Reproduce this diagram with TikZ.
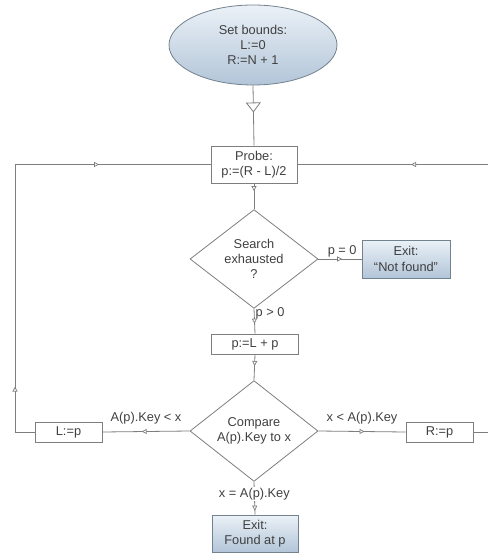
\documentclass[tikz,border=0pt]{standalone}
\usepackage{fontspec}
\setmainfont{Liberation Sans}
\usetikzlibrary{shapes.geometric,arrows.meta,decorations.markings}
\definecolor{lncol}{HTML}{7E7E7E}
\definecolor{txcol}{HTML}{404040}
\definecolor{fillA}{HTML}{EBF1F7}
\definecolor{fillB}{HTML}{B2C5D8}
\definecolor{edgeB}{HTML}{73828F}
\begin{document}
\begin{tikzpicture}[x=1pt,y=-1pt,
  every node/.style={text=txcol,font=\fontsize{12.8}{15.2}\selectfont},
  lnstyle/.style={draw=lncol,line width=0.8pt},
  box/.style={lnstyle,rectangle,fill=white,inner sep=1pt,align=center},
  exitbox/.style={box,draw=edgeB,top color=fillA,bottom color=fillB},
  dia/.style={lnstyle,diamond,minimum width=128pt,minimum height=75pt,inner sep=0pt,align=center,fill=white},
  lbl/.style={inner sep=1pt},
  midarr/.style={lnstyle,postaction={decorate,decoration={markings,mark=at position #1 with {\arrow[lncol,line width=0.7pt]{Triangle[fill=white,length=5pt,width=5pt]}}}}},
  bigarr/.style={lnstyle,postaction={decorate,decoration={markings,mark=at position #1 with {\arrow[lncol,line width=0.8pt]{Triangle[fill=white,length=10pt,width=15pt]}}}}}
]
\useasboundingbox (0,0) rectangle (487,553);

\node[ellipse,lnstyle,draw=edgeB,top color=fillA,bottom color=fillB,minimum width=168pt,minimum height=80pt,inner sep=0pt,align=center] (start) at (253,45) {Set bounds:\\L:=0\\R:=N + 1};
\node[box,minimum width=86pt,minimum height=37pt] (probe) at (254,164.5) {Probe:\\p:=(R - L)/2};
\node[dia] (search) at (254,259) {Search\\exhausted\\?};
\node[exitbox,minimum width=88pt,minimum height=38pt] (notfound) at (406,259) {Exit:\\``Not found''};
\node[box,minimum width=87pt,minimum height=20pt] (setL) at (255,344) {p:=L + p};
\node[dia] (compare) at (254,431) {Compare\\A(p).Key to x};
\node[box,minimum width=67pt,minimum height=20pt] (lp) at (68.5,432) {L:=p};
\node[box,minimum width=67pt,minimum height=20pt] (rp) at (439.5,432) {R:=p};
\node[exitbox,minimum width=86pt,minimum height=37pt] (found) at (255,533.5) {Exit:\\Found at p};

\coordinate (cl1) at (15,432);
\coordinate (cl2) at (15,164.5);
\coordinate (cr1) at (490,432);
\coordinate (cr2) at (490,164.5);

\draw[bigarr=0.45] (start.south) -- (probe.north);
\draw[midarr=0.3] (probe.south) -- (search.north);
\draw[midarr=0.55] (search.east) -- node[lbl,above,pos=0.55] {p = 0} (notfound.west);
\draw[midarr=0.6] (search.south) -- node[lbl,right,pos=0.2] {p > 0} (setL.north);
\draw[midarr=0.45] (setL.south) -- (compare.north);
\draw[midarr=0.55] (compare.west) -- node[lbl,above=6pt,pos=0.5] {A(p).Key < x} (lp.east);
\draw[midarr=0.53] (compare.east) -- node[lbl,above=6pt,pos=0.5] {x < A(p).Key} (rp.west);
\draw[midarr=0.88] (compare.south) -- node[lbl,fill=white,pos=0.38] {x = A(p).Key} (found.north);

\draw[lnstyle] (lp.west) -- (cl1);
\draw[midarr=0.17] (cl1) -- (cl2);
\draw[midarr=0.43] (cl2) -- (probe.west);

\draw[lnstyle] (rp.east) -- (cr1) -- (cr2);
\draw[midarr=0.41] (cr2) -- (probe.east);
\end{tikzpicture}
\end{document}
